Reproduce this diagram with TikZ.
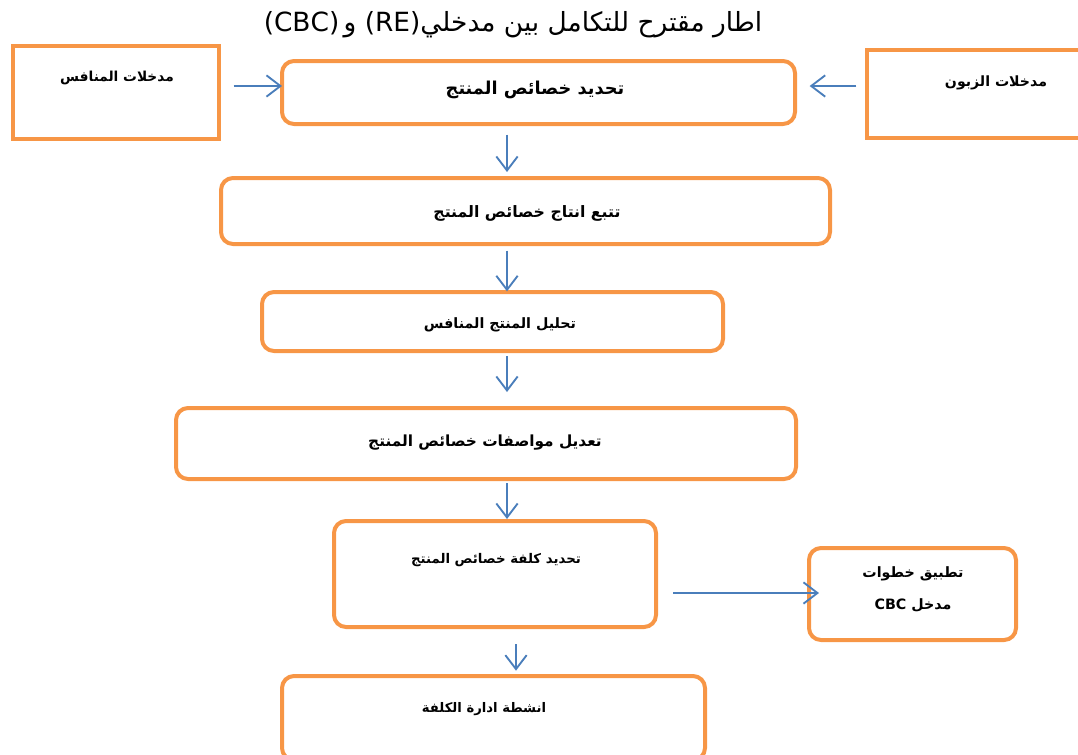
\documentclass[tikz,border=0pt]{standalone}
\usepackage{fontspec}
\setmainfont{DejaVu Sans}
\newfontfamily\arabicfont[Script=Arabic]{DejaVu Sans}
\usetikzlibrary{arrows.meta}
\TeXXeTstate=1
\definecolor{boxorange}{HTML}{F79646}
\definecolor{arrowblue}{HTML}{4A7EBB}
\tikzset{
  sqbox/.style={draw=boxorange, line width=3pt, inner sep=0pt, outer sep=0pt},
  rndbox/.style={sqbox, rounded corners=9pt},
  link/.style={draw=arrowblue, line width=1.4pt, -{Straight Barb[length=10.5pt,width=16pt]}},
  lbl/.style={font=\arabicfont\bfseries\fontsize{#1}{24}\selectfont, align=center, inner sep=0pt},
  lbl/.default=10,
}

\begin{document}
\begin{tikzpicture}[x=0.75pt,y=-0.75pt]
    \useasboundingbox (0,0) rectangle (1078,754);
    \clip (0,0) rectangle (1078,754);
    % Title of the framework.
        \node[font=\arabicfont\fontsize{19.8}{24}\selectfont] (title) at (513,25) {\beginR اطار مقترح للتكامل بين مدخلي\beginL(CBC)\,و (RE)\endL\endR};
    % Below nodes are the boxes.
        \node[sqbox, minimum width=154.5pt, minimum height=69.75pt] (manafis) at (116,92.5) {};
        \node[sqbox, minimum width=167.25pt, minimum height=66pt] (zaboon) at (978.5,94) {};
        \node[rndbox, minimum width=384.75pt, minimum height=47.25pt] (tahdeed) at (538.5,92.5) {};
        \node[rndbox, minimum width=456.75pt, minimum height=49.5pt] (tatabbu) at (525.5,211) {};
        \node[rndbox, minimum width=345.75pt, minimum height=44.25pt] (tahleel) at (492.5,321.5) {};
        \node[rndbox, minimum width=465pt, minimum height=53.25pt] (taadeel) at (486,443.5) {};
        \node[rndbox, minimum width=241.5pt, minimum height=79.5pt] (kulfa) at (495,574) {};
        \node[rndbox, minimum width=155.25pt, minimum height=69pt] (cbc) at (912.5,594) {};
        \node[rndbox, minimum width=317.25pt, minimum height=63pt] (anshita) at (493.5,718) {};
    % Below nodes are the labels.
        \node[lbl=10.3] (manafistxt) at (117,78) {\beginR مدخلات المنافس\endR};
        \node[lbl=10.6] (zaboontxt) at (996,83) {\beginR مدخلات الزبون\endR};
        \node[lbl=13.3] (tahdeedtxt) at (535,90) {\beginR تحديد خصائص المنتج\endR};
        \node[lbl=11.8] (tatabbutxt) at (527,213) {\beginR تتبع انتاج خصائص المنتج\endR};
        \node[lbl=10.7] (tahleeltxt) at (500,325) {\beginR تحليل المنتج المنافس\endR};
        \node[lbl=11.5] (taadeeltxt) at (485,443) {\beginR تعديل مواصفات خصائص المنتج\endR};
        \node[lbl=10] (kulfatxt) at (496,560) {\beginR تحديد كلفة خصائص المنتج\endR};
        \node[lbl=10.7] (cbctxt) at (913,589) {\beginR تطبيق خطوات\endR\\\beginR مدخل \beginL CBC\endL\endR};
        \node[lbl=9.9] (anshitatxt) at (484,709) {\beginR انشطة ادارة الكلفة\endR};
    % This draws the arrows.
        \coordinate (colA) at (507,0);
        \coordinate (colB) at (516,0);
        \coordinate (rowIn) at (0,86);
        \coordinate (rowCbc) at (0,593);
        \draw[link, shorten <=11pt] (manafis.east |- rowIn) -- (tahdeed.west |- rowIn);
        \draw[link, shorten <=8pt, shorten >=11pt] (zaboon.west |- rowIn) -- (tahdeed.east |- rowIn);
        \draw[link, shorten <=8pt, shorten >=4.5pt] (tahdeed.south -| colA) -- (tatabbu.north -| colA);
        \draw[link, shorten <=5pt, shorten >=0.5pt] (tatabbu.south -| colA) -- (tahleel.north -| colA);
        \draw[link, shorten <=4pt, shorten >=12pt] (tahleel.south -| colA) -- (taadeel.north -| colA);
        \draw[link, shorten <=3pt, shorten >=1.5pt] (taadeel.south -| colA) -- (kulfa.north -| colA);
        \draw[link, shorten <=13pt, shorten >=4pt] (kulfa.south -| colB) -- (anshita.north -| colB);
        \draw[link, shorten <=13pt, shorten >=-7.5pt] (kulfa.east |- rowCbc) -- (cbc.west |- rowCbc);
\end{tikzpicture}
\end{document}
